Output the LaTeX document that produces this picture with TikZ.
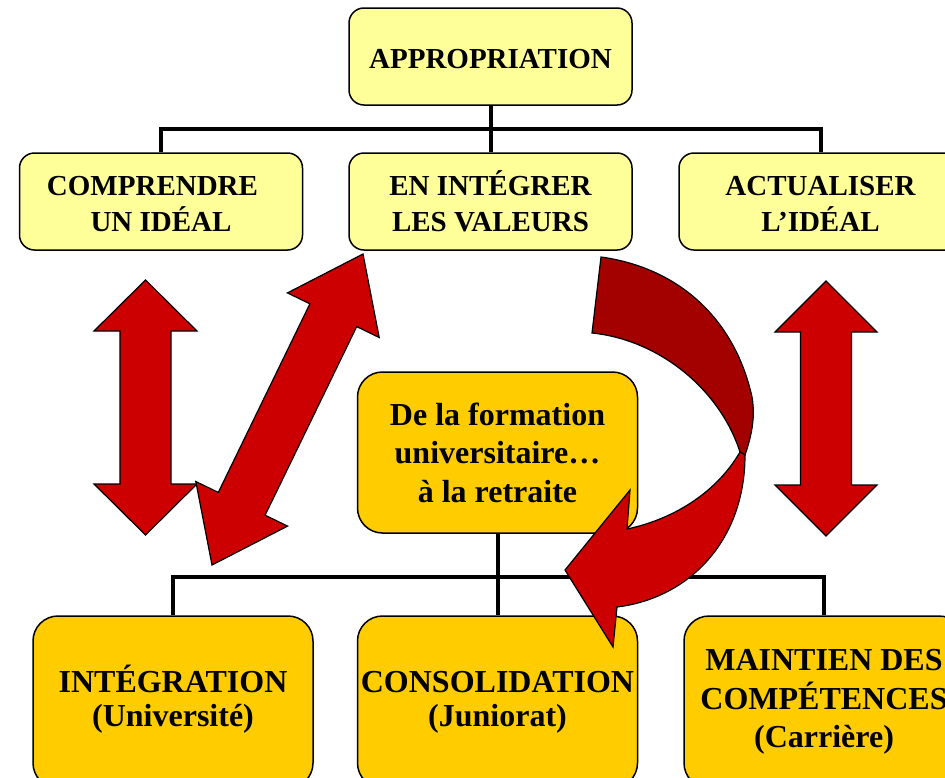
\documentclass[tikz,border=0pt]{standalone}
\usepackage{fontspec}
\setmainfont{Liberation Serif}

\definecolor{jaunepale}{HTML}{FFFF99}
\definecolor{jauneor}{HTML}{FFCC00}
\definecolor{rougevif}{HTML}{CC0000}
\definecolor{rougefonce}{HTML}{A30000}

\tikzset{
  hautbox/.style={draw, line width=1.5pt, fill=jaunepale, rounded corners=15pt,
    minimum width=283pt, minimum height=97pt, inner sep=1pt, align=center,
    font=\fontsize{29}{36}\selectfont\bfseries},
  basbox/.style={draw, line width=1.5pt, fill=jauneor, rounded corners=25pt,
    minimum width=280pt, minimum height=172pt, inner sep=1pt, align=center,
    font=\fontsize{32}{34}\selectfont\bfseries},
  trait/.style={line width=4pt},
  fleche/.style={draw=black, line width=1.2pt, fill=rougevif, line join=miter},
}

\begin{document}
\begin{tikzpicture}[x=1pt,y=-1pt]

  \useasboundingbox (0,0) rectangle (945,777);
  \clip (0,0) rectangle (945,777);

  % Boites du haut
  \node[hautbox] (appro) at (490.5,56.5) {APPROPRIATION\vphantom{É}};
  \node[hautbox] (comp) at (161,201.5) {COMPRENDRE\vphantom{É}\kern17pt\null\\UN IDÉAL};
  \node[hautbox] (valeurs) at (490.5,201.5) {EN INTÉGRER\\LES VALEURS};
  \node[hautbox] (actu) at (820.5,201.5) {ACTUALISER\vphantom{É}\\L’IDÉAL};

  % Boites du bas
  \node[basbox, minimum height=161pt, font=\fontsize{32}{38.5}\selectfont\bfseries]
    (milieu) at (497.5,452.5) {De la formation\\universitaire…\\à la retraite};
  \node[basbox] (integ) at (173,702) {INT\smash{É}GRATION\\(Université)};
  \node[basbox] (consol) at (497.5,702) {CONSOLIDATION\\(Juniorat)};
  \node[basbox, font=\fontsize{32}{38.5}\selectfont\bfseries]
    (maint) at (824,702) {MAINTIEN DES\\COMPÉTENCES\\(Carrière)};

  % Traits
  \coordinate (barrehaut) at (490.5,129);
  \coordinate (barrebas) at (497.5,577);
  \draw[trait] (appro.south) -- (valeurs.north);
  \draw[trait] (comp.north) |- (barrehaut) -| (actu.north);
  \draw[trait] (milieu.south) -- (consol.north);
  \draw[trait] (integ.north) |- (barrebas) -| (maint.north);

  % Fleches doubles verticales
  \draw[fleche] (145.5,280) -- (197,331) -- (171,331) -- (171,484) -- (197,484)
    -- (145.5,535) -- (94,484) -- (120,484) -- (120,331) -- (94,331) -- cycle;
  \draw[fleche] (826,281) -- (877,332) -- (851.5,332) -- (851.5,485) -- (877,485)
    -- (826,536) -- (775,485) -- (800.5,485) -- (800.5,332) -- (775,332) -- cycle;

  % Fleche double oblique
  \draw[fleche] (363,254) -- (379.2,337.5) -- (356.7,326.6) -- (265.1,515.2)
    -- (287.6,526.1) -- (212,565) -- (195.8,481.5) -- (218.3,492.4)
    -- (309.9,303.8) -- (287.4,292.9) -- cycle;

  % Fleche courbe
  \draw[fleche, fill=rougefonce] (601,257) .. controls (680,268) and (735,320) .. (752,397)
    .. controls (756,420) and (750,440) .. (745,455) -- (740,452)
    .. controls (720,390) and (660,340) .. (592,333) -- cycle;
  \draw[fleche] (745,455) .. controls (745,540) and (690,598) .. (617,607)
    -- (613,647) -- (565,570) -- (630,490) -- (627,529)
    .. controls (670,520) and (715,495) .. (740,452) -- cycle;

\end{tikzpicture}
\end{document}
